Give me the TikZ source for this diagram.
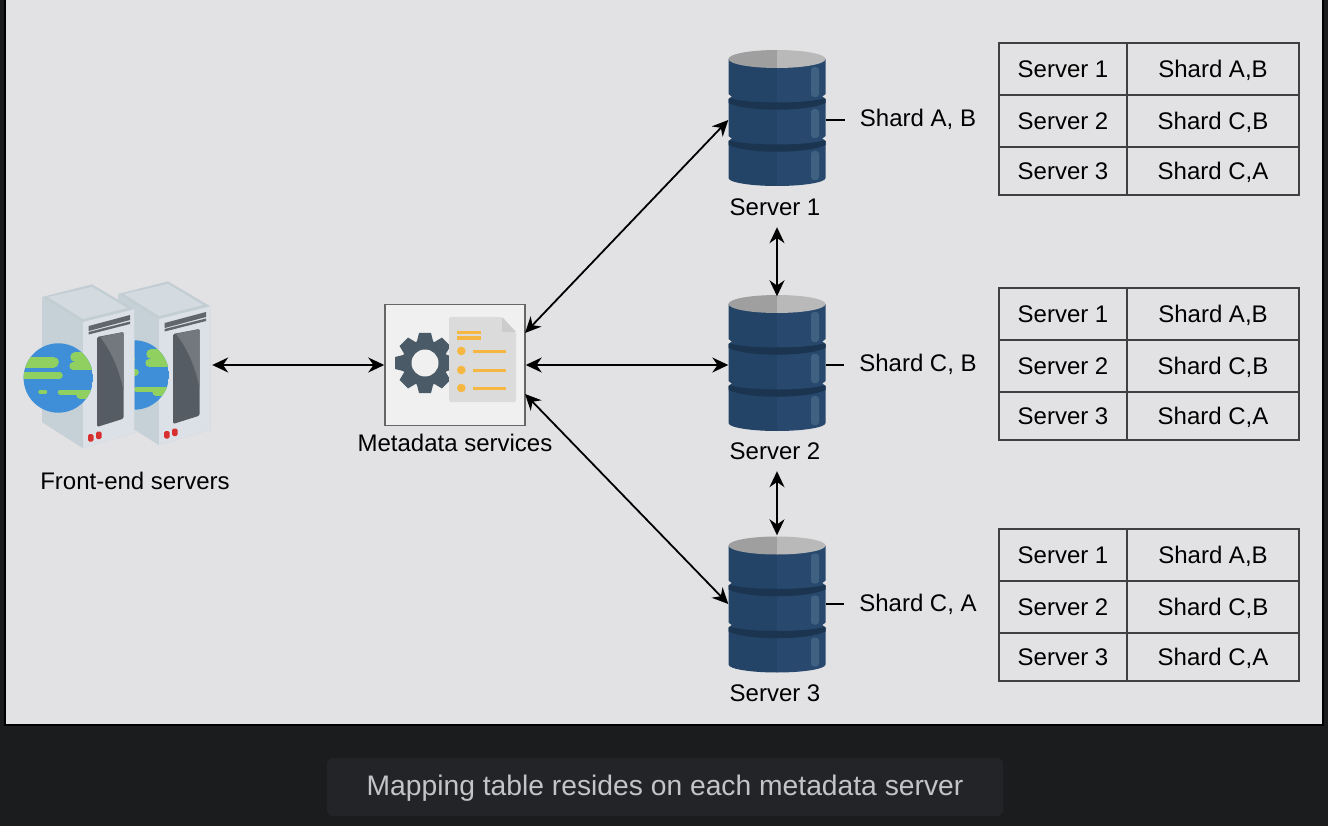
\documentclass[tikz,border=0pt]{standalone}
\usepackage{fontspec}
\setmainfont{Liberation Sans}
\usetikzlibrary{arrows.meta}
\definecolor{pagedark}{HTML}{1B1C1E}
\definecolor{panelgrey}{HTML}{E2E2E4}
\definecolor{capbox}{HTML}{232428}
\definecolor{captext}{HTML}{C3C4C8}
\definecolor{dbleft}{HTML}{234466}
\definecolor{dbright}{HTML}{28496D}
\definecolor{dbband}{HTML}{1B3450}
\definecolor{dbshine}{HTML}{3F6282}
\definecolor{docorange}{HTML}{F5B642}
\definecolor{geargrey}{HTML}{4A5B67}
\definecolor{rackside}{HTML}{C6D0D7}
\definecolor{racktop}{HTML}{D3DBE1}
\definecolor{rackrim}{HTML}{C3CDD4}
\definecolor{rackfront}{HTML}{DBE1E6}
\definecolor{rackdark}{HTML}{555C64}
\definecolor{racklight}{HTML}{73787E}
\definecolor{rackgrille}{HTML}{5F666C}
\definecolor{rackred}{HTML}{D8302F}
\definecolor{globeblue}{HTML}{3F8FD8}
\definecolor{globegreen}{HTML}{8FD060}
\tikzset{
  x=1pt, y=-1pt,
  txt/.style={inner sep=0pt, font=\fontsize{24}{27}\selectfont, text=black},
  shardtxt/.style={txt, inner xsep=15pt, text height=17pt, text depth=2pt},
  link/.style={draw=black, line width=1.8pt, {Stealth[length=16pt,width=15pt]}-{Stealth[length=16pt,width=15pt]}},
  stub/.style={draw=black, line width=1.8pt},
  cell/.style={draw=black!75, line width=1.75pt, font=\fontsize{24}{27}\selectfont, text height=18pt, text depth=1pt, inner sep=0pt},
  hit/.style={inner sep=0pt, minimum width=#1},
  dbserver/.pic={
    % body, two halves
    \fill[dbleft] (-48.5,-59) -- (0,-59) -- (0,68) .. controls (-26.8,68) and (-48.5,64.4) .. (-48.5,60) -- cycle;
    \fill[dbright] (48.5,-59) -- (0,-59) -- (0,68) .. controls (26.8,68) and (48.5,64.4) .. (48.5,60) -- cycle;
    % bands
    \fill[dbband] (-48.5,-20) .. controls (-30,-14) and (30,-14) .. (48.5,-20) -- (48.5,-15) .. controls (30,-6) and (-30,-6) .. (-48.5,-15) -- cycle;
    \fill[dbband] (-48.5,22) .. controls (-30,28) and (30,28) .. (48.5,22) -- (48.5,27) .. controls (30,36) and (-30,36) .. (-48.5,27) -- cycle;
    % notches
    \fill[panelgrey] (-49,-24) -- (-45.5,-21.5) -- (-49,-19) -- cycle;
    \fill[panelgrey] (49,-24) -- (45.5,-21.5) -- (49,-19) -- cycle;
    \fill[panelgrey] (-49,18) -- (-45.5,20.5) -- (-49,23) -- cycle;
    \fill[panelgrey] (49,18) -- (45.5,20.5) -- (49,23) -- cycle;
    % highlights
    \foreach \ya/\yb in {-51/-21, -9/20, 33/62}
      \fill[dbshine, rounded corners=3pt] (34,\ya) rectangle (42,\yb);
    % lid
    \fill[gray!75] (-48.5,-59) .. controls (-48.5,-64) and (-26.8,-68) .. (0,-68) -- (0,-50) .. controls (-26.8,-50) and (-48.5,-54) .. (-48.5,-59) -- cycle;
    \fill[gray!55] (48.5,-59) .. controls (48.5,-64) and (26.8,-68) .. (0,-68) -- (0,-50) .. controls (26.8,-50) and (48.5,-54) .. (48.5,-59) -- cycle;
  },
  rackserver/.pic={
    % origin at top of the side wall
    \fill[rackrim] (0,0) -- (50,-12.7) -- (92.3,12.3) -- (92.3,136) -- (41,151) -- (0,125) -- cycle;
    \fill[racktop] (6,0) -- (50,-10) -- (85,11) -- (41,22) -- cycle;
    \fill[rackside] (0,0) -- (41,25) -- (41,151) -- (0,125) -- cycle;
    \fill[rackfront] (41,25) -- (92.3,12.3) -- (92.3,136) -- (41,151) -- cycle;
    \fill[rackgrille] (46.7,29) -- (88,18) -- (88,23) -- (46.7,34) -- cycle;
    \fill[rackgrille] (46.7,35) -- (88,24.5) -- (88,27) -- (46.7,37.5) -- cycle;
    \fill[rackdark, rounded corners=1.5pt] (55,40) -- (81.6,35) -- (81.6,121.6) -- (55,130) -- cycle;
    \fill[racklight, rounded corners=1pt] (58,40) -- (81.6,35) -- (81.6,95) .. controls (78,75) and (70,55) .. (58,40) -- cycle;
    \fill[rackred, rounded corners=1.5pt] (46,137) rectangle (51.5,144.5);
    \fill[rackred, rounded corners=1.5pt] (54,134.5) rectangle (59.5,142);
  },
  globe/.pic={
    \begin{scope}
      \clip (0,0) circle (34.7);
      \fill[globeblue] (-35,-35) rectangle (35,35);
      \foreach \xa/\xb/\yy/\ww in {-40/-5/-16/11, -40/1/-3/7, 17/40/-21/10, 15/40/-12/8, -18/-13/14/4, 2/40/14/5, 22/40/17/8}
        \draw[line width=\ww pt, line cap=round, globegreen] (\xa,\yy) -- (\xb,\yy);
    \end{scope}
  },
  maptable/.pic={
    \foreach \rowy/\rowh/\srv/\shd in {0/52/Server 1/{Shard A,B}, 52/52/Server 2/{Shard C,B}, 104/48/Server 3/{Shard C,A}} {
      \node[cell, minimum width=128pt, minimum height=\rowh pt] (-srv\rowy) at (64,\rowy+\rowh/2) {\srv};
      \node[cell, minimum width=172pt, minimum height=\rowh pt] (-shd\rowy) at (214,\rowy+\rowh/2) {\shd};
    }
  }
}
\begin{document}
\begin{tikzpicture}
\useasboundingbox (0,0) rectangle (1328,826);
\fill[pagedark] (0,0) rectangle (1328,826);
\fill[black] (4,-1) rectangle (1324,726);
\fill[panelgrey] (6,-1) rectangle (1322,724);
% front end
\pic at (118,294) {rackserver};
\pic at (134.3,375) {globe};
\pic at (42,297) {rackserver};
\pic at (58.3,378) {globe};
\node[hit=188pt, minimum height=20pt] (front) at (118,365) {};
\node[txt] (frontlbl) at (135,481) {Front-end servers};
% metadata
\node[draw=black!60, line width=1.5pt, fill=black!6, minimum width=140pt, minimum height=121pt, inner sep=0pt] (meta) at (455,365) {};
\fill[geargrey] (425,363) circle (23);
\foreach \ang in {0,45,...,315}
  \fill[geargrey, rotate around={\ang:(425,363)}] (419,333) -- (431,333) -- (434,345) -- (416,345) -- cycle;
\fill[black!6] (425,363) circle (13.5);
\fill[black!14, rounded corners=2pt] (449,317) -- (502,317) -- (516,332) -- (516,402) -- (449,402) -- cycle;
\fill[black!20] (502,317) -- (516,332) -- (502,332) -- cycle;
\draw[docorange, line width=3pt] (457,333) -- (481,333) (457,338) -- (481,338);
\foreach \yy in {351,370,388} {
  \fill[docorange] (461.3,\yy) circle (4.3);
  \draw[docorange, line width=3pt] (473,\yy) -- (506,\yy);
}
\node[txt] (metalbl) at (455,443) {Metadata services};
\coordinate (metaup) at (525,333);
\coordinate (metadown) at (525,394);
% servers
\pic at (777,118) {dbserver};
\pic at (777,363) {dbserver};
\pic at (777,604.5) {dbserver};
\node[hit=97pt, minimum height=137pt] (srv1) at (777,120) {};
\node[hit=97pt, minimum height=137pt] (srv2) at (777,365) {};
\node[hit=97pt, minimum height=137pt] (srv3) at (777,604) {};
\node[txt, minimum height=40pt] (lbl1) at (775,207) {Server 1};
\node[txt, minimum height=40pt] (lbl2) at (775,451) {Server 2};
\node[txt, minimum height=40pt] (lbl3) at (775,693) {Server 3};
\node[shardtxt] (shard1) at (918,119) {Shard A, B};
\node[shardtxt] (shard2) at (918,364) {Shard C, B};
\node[shardtxt] (shard3) at (918,604) {Shard C, A};
\draw[stub] (srv1.east) -- (srv1.east -| shard1.west);
\draw[stub] (srv2.east) -- (srv2.east -| shard2.west);
\draw[stub] (srv3.east) -- (srv3.east -| shard3.west);
% arrows
\draw[link] (front.east) -- (meta.west);
\draw[link] (meta.east) -- (srv2.west);
\draw[link] (metaup) -- (srv1.west);
\draw[link] (metadown) -- (srv3.west);
\draw[link] (lbl1.south -| srv1.south) -- (srv2.north);
\draw[link] (lbl2.south -| srv2.south) -- (srv3.north);
% tables
\pic (taba) at (999,43) {maptable};
\pic (tabb) at (999,288) {maptable};
\pic (tabc) at (999,529) {maptable};
% caption
\node[fill=capbox, rounded corners=6pt, minimum width=676pt, minimum height=58pt, inner sep=0pt, text=captext, text height=23pt, text depth=6pt, font=\fontsize{28.25}{31}\selectfont] (caption) at (665,787) {Mapping table resides on each metadata server};
\end{tikzpicture}
\end{document}
